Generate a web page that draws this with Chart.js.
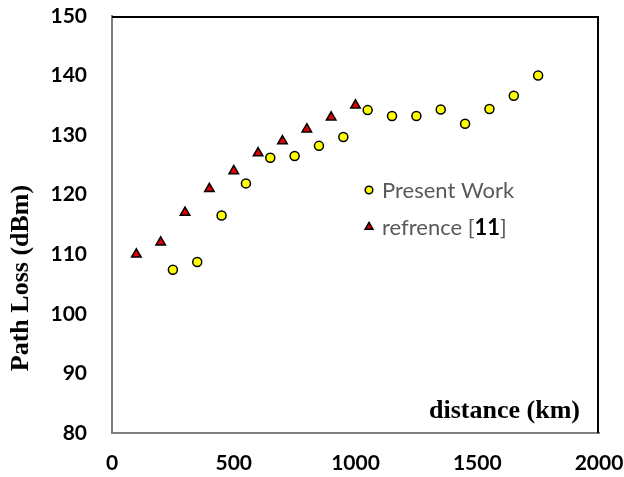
<!DOCTYPE html>
<html>
<head>
<meta charset="utf-8">
<script src="https://cdn.jsdelivr.net/npm/chart.js@4"></script>
<style>
  html, body { margin: 0; padding: 0; background: #fff; }
  #chart { display: block; }
</style>
</head>
<body>
<canvas id="chart" width="624" height="477"></canvas>
<script>
// distance (km) and path loss (dBm) for both series
const distPresent = [250, 350, 450, 550, 650, 750, 850, 950, 1050, 1150, 1250, 1350, 1450, 1550, 1650, 1750];
const lossPresent = [107.4, 108.7, 116.5, 121.9, 126.2, 126.5, 128.2, 129.7, 134.2, 133.2, 133.2, 134.3, 131.9, 134.4, 136.6, 140.0];
const distRef = [100, 200, 300, 400, 500, 600, 700, 800, 900, 1000];
const lossRef = [110, 112, 117, 121, 124, 127, 129, 131, 133, 135];

const xTicks = [0, 500, 1000, 1500, 2000];
const yTicks = [80, 90, 100, 110, 120, 130, 140, 150];

const toPoints = (xs, ys) => xs.map((x, i) => ({ x: x, y: ys[i] }));

const presentStyle = { pointStyle: 'circle', radius: 4.5, backgroundColor: '#FFFF00', borderColor: '#000', borderWidth: 1.5 };
const refStyle = { pointStyle: 'triangle', radius: 5.5, backgroundColor: '#E00000', borderColor: '#000', borderWidth: 1.5 };

// frame, axis titles and the in-plot legend
const decorations = {
  id: 'decorations',
  afterDraw(chart) {
    const ctx = chart.ctx;
    const a = chart.chartArea;
    ctx.save();

    // black top and right edges of the plot box
    ctx.strokeStyle = '#000';
    ctx.lineWidth = 2;
    ctx.beginPath();
    ctx.moveTo(a.left, a.top + 1);
    ctx.lineTo(a.right - 1, a.top + 1);
    ctx.lineTo(a.right - 1, a.bottom);
    ctx.stroke();

    // x title sits inside the plot, bottom right
    ctx.fillStyle = '#000';
    ctx.font = 'bold 26px "Liberation Serif"';
    ctx.textAlign = 'right';
    ctx.textBaseline = 'alphabetic';
    ctx.fillText('distance (km)', 580, 418);

    // y title
    ctx.save();
    ctx.translate(21, 278);
    ctx.rotate(-Math.PI / 2);
    ctx.textAlign = 'center';
    ctx.textBaseline = 'middle';
    ctx.fillText('Path Loss (dBm)', 0, 0);
    ctx.restore();

    // legend (markers a bit smaller than in the plot)
    const lx = 369, tx = 382;
    const rows = [
      { y: 190, style: presentStyle, r: 3.8, parts: [['Present Work', '#595959', '']] },
      { y: 227, style: refStyle, r: 4.6, parts: [['refrence [', '#595959', ''], ['11', '#000', 'bold '], [']', '#595959', '']] }
    ];
    rows.forEach(row => {
      ctx.fillStyle = row.style.backgroundColor;
      ctx.strokeStyle = row.style.borderColor;
      ctx.lineWidth = row.style.borderWidth;
      Chart.helpers.drawPoint(ctx, {
        pointStyle: row.style.pointStyle,
        radius: row.r,
        borderWidth: row.style.borderWidth,
        rotation: 0
      }, lx, row.y);
      let x = tx;
      ctx.textAlign = 'left';
      ctx.textBaseline = 'middle';
      row.parts.forEach(p => {
        ctx.font = p[2] + '22px Lato';
        ctx.fillStyle = p[1];
        ctx.fillText(p[0], x, row.y + 1);
        x += ctx.measureText(p[0]).width;
      });
    });

    ctx.restore();
  }
};

const tickFont = { family: 'Lato', weight: 'bold', size: 21 };

new Chart(document.getElementById('chart'), {
  type: 'scatter',
  data: {
    datasets: [
      {
        label: 'Present Work',
        data: toPoints(distPresent, lossPresent),
        pointStyle: presentStyle.pointStyle,
        pointRadius: presentStyle.radius,
        backgroundColor: presentStyle.backgroundColor,
        borderColor: presentStyle.borderColor,
        borderWidth: presentStyle.borderWidth
      },
      {
        label: 'refrence [11]',
        data: toPoints(distRef, lossRef),
        pointStyle: refStyle.pointStyle,
        pointRadius: refStyle.radius,
        backgroundColor: refStyle.backgroundColor,
        borderColor: refStyle.borderColor,
        borderWidth: refStyle.borderWidth
      }
    ]
  },
  options: {
    responsive: false,
    animation: false,
    layout: { padding: { top: 16, right: 25, left: 0, bottom: 0 } },
    plugins: {
      legend: { display: false },
      tooltip: { enabled: false }
    },
    scales: {
      x: {
        type: 'linear',
        min: 0,
        max: 2000,
        afterBuildTicks: s => { s.ticks = xTicks.map(v => ({ value: v })); },
        afterFit: s => { s.height = 44; s.paddingLeft = 0; s.paddingRight = 0; },
        grid: { display: false, drawTicks: false },
        border: { display: true, color: '#7F7F7F', width: 2 },
        ticks: { color: '#000', padding: 18, maxRotation: 0, font: tickFont, callback: v => String(v) }
      },
      y: {
        min: 80,
        max: 150,
        afterBuildTicks: s => { s.ticks = yTicks.map(v => ({ value: v })); },
        afterFit: s => { s.width = 112; s.paddingTop = 0; s.paddingBottom = 0; },
        grid: { display: false, drawTicks: false },
        border: { display: true, color: '#7F7F7F', width: 2 },
        ticks: { color: '#000', padding: 25, font: tickFont, callback: v => String(v) }
      }
    }
  },
  plugins: [decorations]
});
</script>
</body>
</html>
